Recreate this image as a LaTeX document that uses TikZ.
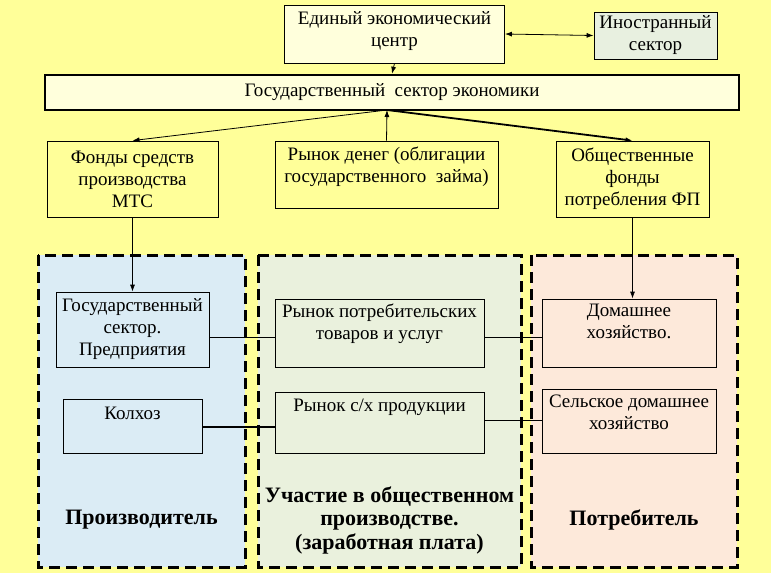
\documentclass[tikz,border=0pt]{standalone}
\usepackage{fontspec}
\setmainfont{Liberation Serif}
\usetikzlibrary{calc,arrows.meta}
\definecolor{bgYellow}{RGB}{255,255,153}
\definecolor{creamFill}{RGB}{255,255,220}
\definecolor{greyGreen}{RGB}{232,240,224}
\definecolor{prodBlue}{RGB}{219,236,245}
\definecolor{partGreen}{RGB}{234,241,221}
\definecolor{consPink}{RGB}{253,233,218}
\newcommand{\BoxFont}{\fontsize{19}{22}\selectfont}
\newcommand{\PanelFont}{\fontsize{22}{23.5}\selectfont\bfseries}

\begin{document}
\begin{tikzpicture}[x=1pt,y=-1pt,
  box/.style={draw,line width=0.8pt,inner sep=0pt,align=center,font=\BoxFont},
  toptext/.style={anchor=north,align=center,font=\BoxFont},
  panel/.style={line width=3pt,dash pattern=on 11pt off 6pt},
  link/.style={line width=0.8pt},
  arr/.style={line width=0.8pt,-{Latex[length=7pt,width=5pt]}},
  arrboth/.style={line width=0.8pt,{Latex[length=7pt,width=5pt]}-{Latex[length=7pt,width=5pt]}}]
\fill[bgYellow] (0,0) rectangle (771,573);
% top level
\node[box,fill=creamFill,minimum width=220pt,minimum height=58pt] (eec) at (394.5,34) {};
\node[toptext] (eecText) at ([yshift=-3pt]eec.north) {Единый экономический\\центр};
\node[box,fill=greyGreen,minimum width=123pt,minimum height=47pt] (inostr) at (655.5,35.5) {Иностранный\\сектор};
\node[box,fill=creamFill,line width=2.5pt,minimum width=694pt,minimum height=35pt] (gse) at (392,92.5) {Государственный\ \ сектор экономики};
\node[box,minimum width=171pt,minimum height=76pt] (fonds) at (132.5,179) {Фонды средств\\производства\\МТС};
\node[box,minimum width=223pt,minimum height=67pt] (rynokDeneg) at (386.5,174.5) {};
\node[toptext] (rynokDenegText) at ([yshift=-3pt]rynokDeneg.north) {Рынок денег (облигации\\государственного\ \ займа)};
\node[box,minimum width=153pt,minimum height=76pt] (obshch) at (632.5,179) {Общественные\\фонды\\потребления ФП};
\coordinate (hub) at (387,110);
\draw[arrboth] (eec.east) -- (inostr.west);
\draw[arr] (eec.south) -- (gse.north);
\draw[arr] (hub) -- (fonds.north);
\draw[arr] (rynokDeneg.north) -- (hub);
\draw[arr,line width=1.8pt] (hub) -- (obshch.north);
% panels
\fill[prodBlue] (38,255) rectangle (245,567);
\fill[partGreen] (258,255) rectangle (521,567);
\fill[consPink] (531,255) rectangle (737,567);
\draw[panel] (38,255) rectangle (245,567);
\draw[panel] (258,255) rectangle (521,567);
\draw[panel] (531,255) rectangle (737,567);
\node[font=\PanelFont] (prod) at (141.5,520) {Производитель};
\node[font=\PanelFont,align=center] (uchast) at (389.5,520) {Участие в общественном\\производстве.\\(заработная плата)};
\node[font=\PanelFont] (potreb) at (634,520) {Потребитель};
% boxes inside panels
\node[box,fill=prodBlue,minimum width=153pt,minimum height=75pt] (gosSektor) at (132.5,329.5) {Государственный\\сектор.\\Предприятия};
\node[box,fill=prodBlue,minimum width=139pt,minimum height=54pt] (kolhoz) at (132.5,426) {};
\node[toptext] (kolhozText) at ([yshift=-5pt]kolhoz.north) {Колхоз};
\node[box,fill=partGreen,minimum width=209pt,minimum height=68pt] (rynokPotreb) at (379.5,333) {};
\node[toptext] (rynokPotrebText) at ([yshift=-2pt]rynokPotreb.north) {Рынок потребительских\\товаров и услуг};
\node[box,fill=partGreen,minimum width=209pt,minimum height=61pt] (rynokSh) at (379.5,422.5) {};
\node[toptext] (rynokShText) at ([yshift=-4pt]rynokSh.north) {Рынок с/х продукции};
\node[box,fill=consPink,minimum width=174pt,minimum height=68pt] (domashnee) at (629,333) {};
\node[toptext] (domashneeText) at ([yshift=-2pt]domashnee.north) {Домашнее\\хозяйство.};
\node[box,fill=consPink,minimum width=174pt,minimum height=64pt] (selskoe) at (629,421) {};
\node[toptext] (selskoeText) at ([yshift=-3pt]selskoe.north) {Сельское домашнее\\хозяйство};
% connections
\draw[arr] (fonds.south) -- (gosSektor.north);
\draw[arr] (obshch.south) -- (obshch.south |- domashnee.north);
\draw[link] ([yshift=-7.5pt]gosSektor.east) -- ([yshift=-7.5pt]gosSektor.east -| rynokPotreb.west);
\draw[link] ([yshift=-4pt]rynokPotreb.east) -- ([yshift=-4pt]rynokPotreb.east -| domashnee.west);
\draw[link,line width=1.8pt] ([yshift=-1pt]kolhoz.east) -- ([yshift=-1pt]kolhoz.east -| rynokSh.west);
\draw[link] ([yshift=2.5pt]rynokSh.east) -- ([yshift=2.5pt]rynokSh.east -| selskoe.west);
\end{tikzpicture}
\end{document}
